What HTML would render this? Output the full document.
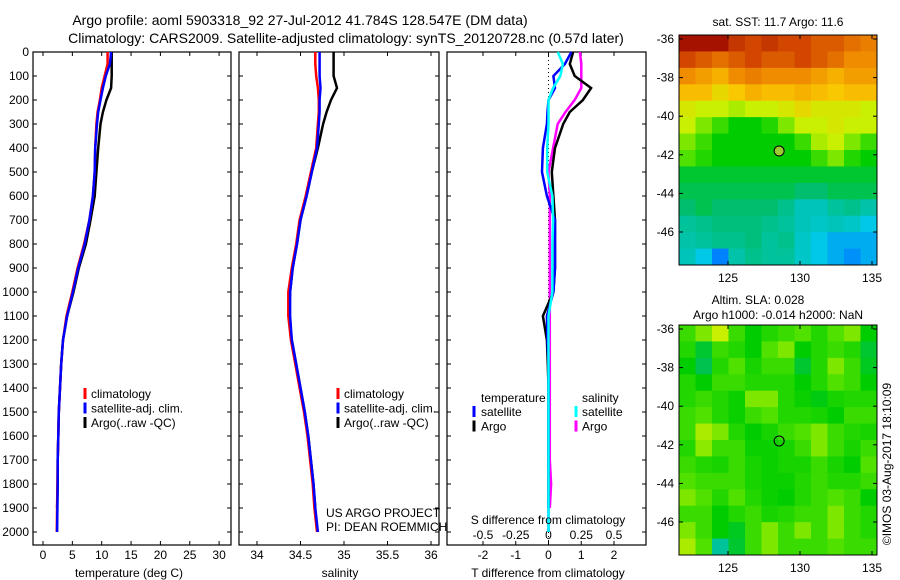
<!DOCTYPE html>
<html><head><meta charset="utf-8"><style>
body{margin:0;background:#fff;}
svg{display:block;font-family:"Liberation Sans",sans-serif;}
text{fill:#000;}
</style></head><body>
<svg id="root" width="900" height="580" viewBox="0 0 900 580">
<text x="300" y="25" font-size="14" text-anchor="middle">Argo profile: aoml 5903318_92 27-Jul-2012 41.784S 128.547E (DM data)</text>
<text x="346" y="43" font-size="14" text-anchor="middle">Climatology: CARS2009. Satellite-adjusted climatology: synTS_20120728.nc (0.57d later)</text>
<g id="g1"></g>
<g id="g2"></g>
<g id="g3"></g>
<g id="m1"></g>
<g id="m2"></g>
<text x="778" y="26" font-size="12" text-anchor="middle">sat. SST: 11.7 Argo: 11.6</text>
<text x="758" y="304" font-size="12" text-anchor="middle">Altim. SLA: 0.028</text>
<text x="778" y="319" font-size="12" text-anchor="middle">Argo h1000: -0.014 h2000: NaN</text>
<text transform="translate(891,464) rotate(-90)" font-size="12" text-anchor="middle">©IMOS 03-Aug-2017 18:10:09</text>
</svg>
<script>
const depths=[0,50,100,150,200,250,300,400,500,600,700,800,900,1000,1100,1200,1300,1400,1500,1600,1700,1800,1900,2000];
const tempClim=[11.0,11.0,10.5,10.0,9.7,9.3,9.1,8.9,8.8,8.5,7.9,7.0,5.9,5.0,4.0,3.4,3.1,2.9,2.7,2.6,2.5,2.45,2.4,2.35];
const tempSat=[11.6,11.4,10.7,10.2,9.8,9.4,9.2,8.9,8.8,8.5,7.9,7.1,6.0,5.1,4.1,3.4,3.1,2.9,2.7,2.6,2.5,2.5,2.45,2.4];
const tempArgo=[11.7,11.7,11.7,11.6,10.8,10.2,9.8,9.4,9.1,8.8,8.1,7.3,6.1,5.2,4.1,3.4,3.1,2.9,2.7,2.6,2.5,2.5,2.4,null];
const salClim=[34.67,34.67,34.68,34.70,34.71,34.71,34.70,34.68,34.62,34.56,34.49,34.45,34.40,34.36,34.36,34.39,34.44,34.49,34.54,34.58,34.61,34.64,34.66,34.69];
const salSat=[34.72,34.72,34.72,34.73,34.72,34.72,34.71,34.69,34.63,34.57,34.50,34.46,34.41,34.38,34.38,34.40,34.45,34.50,34.55,34.59,34.62,34.65,34.67,34.70];
const salArgo=[34.88,34.88,34.88,34.92,34.85,34.80,34.76,34.70,34.63,34.57,34.50,34.46,34.41,34.38,34.37,34.40,34.45,34.50,34.55,34.59,34.62,34.65,34.67,null];
const tDiffSat=[0.7,0.5,0.15,0.2,0,-0.03,-0.05,-0.17,-0.2,-0.05,0.2,0.2,0.2,0.15,-0.05,-0.03,0,0,0,0,0,0,0,0];
const tDiffArgo=[0.75,0.65,0.8,1.3,1.05,0.65,0.45,0.2,0.1,0.15,0.2,0.2,0.2,0.15,-0.17,-0.05,-0.02,0,0,0,0,0,0,null];
const sDiffSat=[0.07,0.11,0.09,0.035,0,0,0,-0.01,-0.01,0.03,0.035,0.03,0.03,0.03,0,0,0,0,0,0,0,0,0,0];
const sDiffArgo=[0.24,0.25,0.25,0.25,0.2,0.13,0.07,0.035,0,0.01,0.01,0.01,0.01,0.01,0.01,0.01,0.01,0.01,0.01,0.01,0.01,0.02,0.01,null];
const depthTicks=[0,100,200,300,400,500,600,700,800,900,1000,1100,1200,1300,1400,1500,1600,1700,1800,1900,2000];
const tempTicks=[0,5,10,15,20,25,30];
const salTicks=[34,34.5,35,35.5,36];
const tDiffTicks=[-2,-1,0,1,2];
const sDiffTicks=["-0.5","-0.25","0","0.25","0.5"];
const sstGrid=[
[0.95,0.95,0.95,0.9,0.88,0.9,0.88,0.88,0.85,0.85,0.82,0.8],
[0.88,0.85,0.82,0.85,0.88,0.85,0.85,0.88,0.85,0.82,0.78,0.78],
[0.78,0.75,0.72,0.78,0.8,0.78,0.78,0.78,0.75,0.72,0.75,0.75],
[0.7,0.7,0.65,0.68,0.72,0.7,0.7,0.72,0.7,0.68,0.7,0.7],
[0.62,0.6,0.6,0.58,0.6,0.6,0.62,0.65,0.62,0.62,0.62,0.6],
[0.6,0.55,0.5,0.45,0.45,0.48,0.55,0.6,0.6,0.62,0.6,0.6],
[0.55,0.5,0.45,0.45,0.45,0.45,0.45,0.5,0.58,0.6,0.55,0.5],
[0.52,0.48,0.45,0.45,0.45,0.45,0.45,0.45,0.5,0.55,0.48,0.45],
[0.42,0.42,0.42,0.42,0.42,0.42,0.42,0.42,0.42,0.42,0.42,0.42],
[0.4,0.4,0.4,0.4,0.4,0.4,0.4,0.38,0.38,0.4,0.4,0.4],
[0.38,0.4,0.38,0.38,0.38,0.38,0.36,0.33,0.33,0.35,0.36,0.34],
[0.35,0.36,0.37,0.37,0.37,0.36,0.35,0.33,0.32,0.33,0.32,0.3],
[0.34,0.35,0.36,0.36,0.37,0.35,0.36,0.32,0.3,0.28,0.28,0.28],
[0.33,0.3,0.25,0.34,0.36,0.35,0.35,0.32,0.3,0.28,0.26,0.28]];
const slaGrid=[
[0.5,0.55,0.6,0.5,0.45,0.48,0.5,0.52,0.48,0.52,0.55,0.45],
[0.48,0.42,0.5,0.48,0.45,0.52,0.55,0.45,0.48,0.5,0.48,0.42],
[0.45,0.4,0.48,0.52,0.47,0.5,0.5,0.42,0.48,0.55,0.5,0.43],
[0.48,0.45,0.5,0.5,0.48,0.48,0.48,0.45,0.48,0.52,0.5,0.45],
[0.48,0.5,0.48,0.46,0.55,0.55,0.48,0.46,0.44,0.47,0.48,0.48],
[0.5,0.52,0.48,0.46,0.5,0.52,0.48,0.48,0.47,0.45,0.5,0.5],
[0.5,0.58,0.55,0.48,0.45,0.47,0.5,0.52,0.55,0.5,0.48,0.47],
[0.48,0.56,0.5,0.5,0.46,0.46,0.47,0.5,0.55,0.5,0.47,0.5],
[0.5,0.48,0.47,0.5,0.47,0.46,0.47,0.47,0.5,0.47,0.45,0.52],
[0.52,0.5,0.5,0.5,0.47,0.46,0.46,0.48,0.5,0.48,0.48,0.5],
[0.55,0.52,0.48,0.52,0.48,0.46,0.45,0.48,0.5,0.52,0.5,0.45],
[0.5,0.5,0.45,0.48,0.5,0.47,0.48,0.5,0.5,0.55,0.5,0.48],
[0.55,0.5,0.45,0.43,0.5,0.55,0.5,0.55,0.5,0.55,0.5,0.48],
[0.58,0.52,0.35,0.42,0.5,0.55,0.5,0.5,0.5,0.52,0.5,0.5]];
const lonTicks=[125,130,135];
const latTicks=[-36,-38,-40,-42,-44,-46];
const argoLon=128.55, argoLat=-41.8;

const NS="http://www.w3.org/2000/svg";
function mk(parent,tag,attrs,txt){const e=document.createElementNS(NS,tag);for(const k in attrs)e.setAttribute(k,attrs[k]);if(txt!==undefined)e.textContent=txt;parent.appendChild(e);return e;}
const PT=52,PB=545;
const yD=d=>52+d*0.24;
const panels=[{x0:33,x1:231},{x0:239,x1:439},{x0:447,x1:646}];
const xT=t=>43+5.87*t, xS=s=>257+87*(s-34), xTd=t=>548.5+32.75*t, xSd=s=>548.5+131*s;

function frame(g,p,name){
  const r=mk(g,'rect',{x:p.x0,y:PT,width:p.x1-p.x0,height:PB-PT,fill:'none',stroke:'#000','stroke-width':1.2});
  
  depthTicks.forEach(d=>{const y=yD(d);
    mk(g,'line',{x1:p.x0,x2:p.x0+4,y1:y,y2:y,stroke:'#000'});
    mk(g,'line',{x1:p.x1-4,x2:p.x1,y1:y,y2:y,stroke:'#000'});});
}
function xticks(g,vals,fx,labels,ly){
  vals.forEach((v,i)=>{const x=fx(v);
    mk(g,'line',{x1:x,x2:x,y1:PB,y2:PB-4,stroke:'#000'});
    mk(g,'line',{x1:x,x2:x,y1:PT,y2:PT+4,stroke:'#000'});
    if(ly){const t=mk(g,'text',{x:x,y:ly,'font-size':12,'text-anchor':'middle'},labels[i]);
      }});
}
function line(g,xs,fx,col,name){
  let pts=[];xs.forEach((v,i)=>{if(v!==null)pts.push(fx(v).toFixed(1)+','+yD(depths[i]).toFixed(1));});
  const l=mk(g,'polyline',{points:pts.join(' '),fill:'none',stroke:col,'stroke-width':2.5,'stroke-linejoin':'miter'});
  
}
function legend(g,x,items){
  items.forEach((it,i)=>{const y=398+i*14.5;
    mk(g,'line',{x1:x,x2:x,y1:y-10,y2:y+1,stroke:it[1],'stroke-width':3});
    const t=mk(g,'text',{x:x+6,y:y,'font-size':12},it[0]);
    });
}
// Panel 1
const g1=document.getElementById('g1');
frame(g1,panels[0],'temperature');
depthTicks.forEach(d=>{const t=mk(g1,'text',{x:29,y:yD(d)+4,'font-size':12,'text-anchor':'end'},String(d));
  });
xticks(g1,tempTicks,xT,tempTicks.map(String),559);
line(g1,tempArgo,xT,'#000','temp-argo-line');
line(g1,tempClim,xT,'#f00','temp-climatology-line');
line(g1,tempSat,xT,'#00f','temp-satellite-line');
legend(g1,85,[['climatology','#f00'],['satellite-adj. clim.','#00f'],['Argo(..raw -QC)','#000']]);
let t=mk(g1,'text',{x:129,y:577,'font-size':12,'text-anchor':'middle'},'temperature (deg C)');

// Panel 2
const g2=document.getElementById('g2');
frame(g2,panels[1],'salinity');
xticks(g2,salTicks,xS,salTicks.map(String),559);
line(g2,salArgo,xS,'#000','sal-argo-line');
line(g2,salClim,xS,'#f00','sal-climatology-line');
line(g2,salSat,xS,'#00f','sal-satellite-line');
legend(g2,338,[['climatology','#f00'],['satellite-adj. clim.','#00f'],['Argo(..raw -QC)','#000']]);
t=mk(g2,'text',{x:340,y:577,'font-size':12,'text-anchor':'middle'},'salinity');

t=mk(g2,'text',{x:326,y:517,'font-size':12},'US ARGO PROJECT');

t=mk(g2,'text',{x:326,y:531,'font-size':12},'PI: DEAN ROEMMICH');

// Panel 3
const g3=document.getElementById('g3');
frame(g3,panels[2],'difference');
mk(g3,'line',{x1:548.5,x2:548.5,y1:PT,y2:PB,stroke:'#000','stroke-dasharray':'1,3'});
xticks(g3,tDiffTicks,xTd,tDiffTicks.map(String),559);
sDiffTicks.forEach(s=>{const tt=mk(g3,'text',{x:xSd(parseFloat(s)),y:539,'font-size':12,'text-anchor':'middle'},s);
  });
line(g3,sDiffArgo,xSd,'#f0f','s-diff-argo-line');
line(g3,tDiffArgo,xTd,'#000','t-diff-argo-line');
line(g3,tDiffSat,xTd,'#00f','t-diff-satellite-line');
line(g3,sDiffSat,xSd,'#0ff','s-diff-satellite-line');
t=mk(g3,'text',{x:481,y:402,'font-size':12},'temperature');
t=mk(g3,'text',{x:582,y:402,'font-size':12},'salinity');
[['satellite','#00f','#0ff'],['Argo','#000','#f0f']].forEach((it,i)=>{const y=416+i*14.5;
  mk(g3,'line',{x1:474,x2:474,y1:y-10,y2:y+1,stroke:it[1],'stroke-width':3});
  let a=mk(g3,'text',{x:481,y:y,'font-size':12},it[0]);
  mk(g3,'line',{x1:576,x2:576,y1:y-10,y2:y+1,stroke:it[2],'stroke-width':3});
  a=mk(g3,'text',{x:582,y:y,'font-size':12},it[0]);});
t=mk(g3,'text',{x:548,y:524,'font-size':12,'text-anchor':'middle'},'S difference from climatology');
t=mk(g3,'text',{x:548,y:577,'font-size':12,'text-anchor':'middle'},'T difference from climatology');

// Maps
const stops=[[0.15,[0,40,200]],[0.25,[0,130,255]],[0.3,[0,200,230]],[0.38,[0,190,110]],[0.45,[0,205,0]],[0.52,[80,225,0]],[0.6,[200,240,0]],[0.68,[250,200,0]],[0.78,[240,140,0]],[0.88,[210,70,0]],[0.96,[160,10,0]]];
function cmap(v){if(v<=stops[0][0])return 'rgb('+stops[0][1]+')';
  for(let i=1;i<stops.length;i++){if(v<=stops[i][0]){const a=stops[i-1],b=stops[i],f=(v-a[0])/(b[0]-a[0]);
    return 'rgb('+a[1].map((c,k)=>Math.round(c+(b[1][k]-c)*f)).join(',')+')';}}
  return 'rgb('+stops[stops.length-1][1]+')';}
function map(id,grid,top,name){
  const g=document.getElementById(id);const L=679,R=877,T=top,B=top+230;
  const lonX=lo=>728+(lo-125)*14.4, latY=la=>top+4+(-36-la)*19.3;
  const rows=grid.length,cols=grid[0].length,cw=(R-L)/cols,ch=(B-T)/rows;
  grid.forEach((row,r)=>row.forEach((v,c)=>{const e=mk(g,'rect',{x:L+c*cw,y:T+r*ch,width:cw+0.5,height:ch+0.5,fill:cmap(v)});
    }));
  mk(g,'rect',{x:L,y:T,width:R-L,height:B-T,fill:'none',stroke:'#000'});
  lonTicks.forEach(lo=>{const x=lonX(lo);mk(g,'line',{x1:x,x2:x,y1:T,y2:T+4,stroke:'#000'});mk(g,'line',{x1:x,x2:x,y1:B,y2:B-4,stroke:'#000'});
    const a=mk(g,'text',{x:x,y:B+17,'font-size':12,'text-anchor':'middle'},String(lo));});
  latTicks.forEach(la=>{const y=latY(la);mk(g,'line',{x1:L,x2:L+4,y1:y,y2:y,stroke:'#000'});mk(g,'line',{x1:R-4,x2:R,y1:y,y2:y,stroke:'#000'});
    const a=mk(g,'text',{x:674,y:y+4,'font-size':12,'text-anchor':'end'},String(la));});
  const c=mk(g,'circle',{cx:lonX(argoLon),cy:latY(argoLat),r:5,fill:id==='m1'?'#9acd32':'none',stroke:'#000'});
  
}
map('m1',sstGrid,35,'sst');
map('m2',slaGrid,325,'sla');
</script>
</body></html>
